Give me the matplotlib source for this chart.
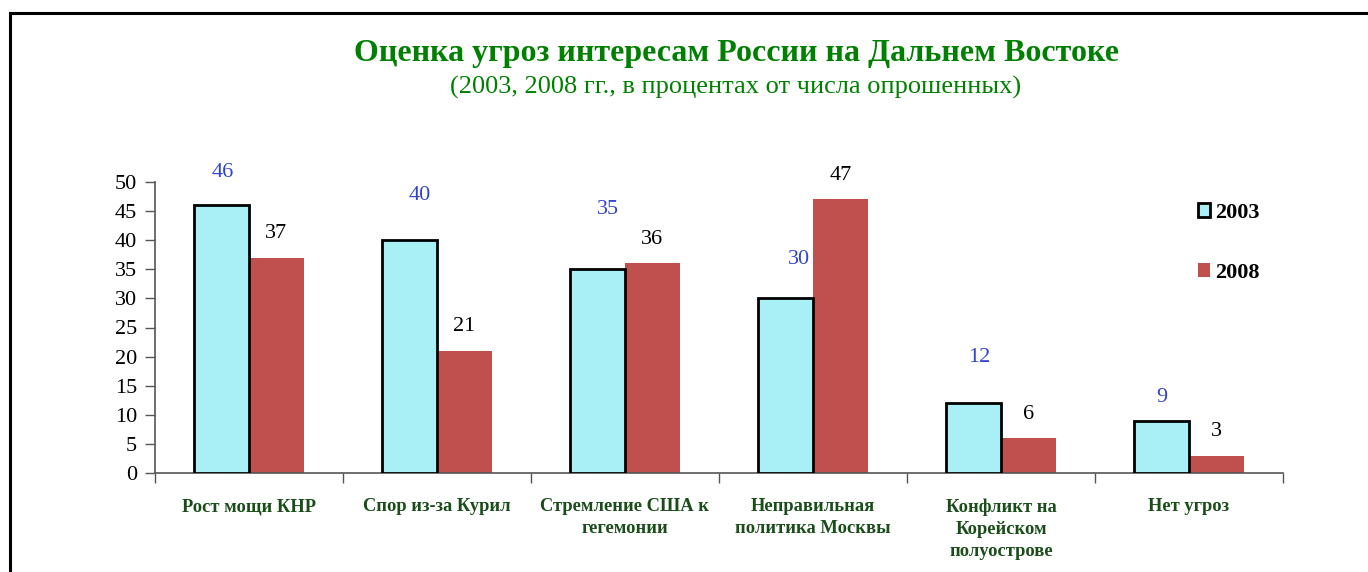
import matplotlib
matplotlib.use("Agg")
import matplotlib.pyplot as plt
import numpy as np
from matplotlib.lines import Line2D

categories = ["Рост мощи КНР", "Спор из-за Курил", "Стремление США к\nгегемонии",
              "Неправильная\nполитика Москвы", "Конфликт на\nКорейском\nполуострове", "Нет угроз"]
values_2003 = [46, 40, 35, 30, 12, 9]
values_2008 = [37, 21, 36, 47, 6, 3]
series_names = ["2003", "2008"]
yticks = [0, 5, 10, 15, 20, 25, 30, 35, 40, 45, 50]

title = "Оценка угроз интересам России на Дальнем Востоке"
subtitle = "(2003, 2008 гг., в процентах от числа опрошенных)"

# label offsets in pixels (style)
off_2003 = [(1, 33), (10, 45), (10, 60), (13, 39), (5, 46), (0, 23)]
off_2008 = (0, 24)

plt.rcParams['font.family'] = ['Liberation Serif', 'DejaVu Serif']

fig = plt.figure(figsize=(13.68, 5.72), dpi=100)
fig.patch.set_facecolor('white')

# frame lines
fig.add_artist(Line2D([10/1368, 10/1368], [0, 1 - 13/572], color='black', lw=2.2, transform=fig.transFigure))
fig.add_artist(Line2D([10/1368, 1], [1 - 13/572, 1 - 13/572], color='black', lw=2.2, transform=fig.transFigure))

ax = fig.add_axes([155/1368, 99/572, (1283-155)/1368, 291/572])
x = np.arange(len(categories))
w = 0.29
c2003 = '#A8F0F6'
c2008 = '#C0504D'
b1 = ax.bar(x - w/2, values_2003, w, color=c2003, edgecolor='black', linewidth=2.0, zorder=3)
b2 = ax.bar(x + w/2, values_2008, w, color=c2008, edgecolor='none', zorder=2)

for i, (xi, v) in enumerate(zip(x, values_2003)):
    ax.annotate(str(v), (xi - w/2, v), xytext=off_2003[i], textcoords='offset pixels',
                ha='center', va='center', fontsize=16, color='#3344CC')
for xi, v in zip(x, values_2008):
    ax.annotate(str(v), (xi + w/2, v), xytext=off_2008, textcoords='offset pixels',
                ha='center', va='center', fontsize=16, color='black')

ax.set_xlim(-0.5, len(categories) - 0.5)
ax.set_ylim(0, 50)
ax.set_yticks(yticks)
ax.set_yticklabels([str(t) for t in yticks], fontsize=16)
ax.set_xticks(np.arange(len(categories) + 1) - 0.5)
ax.set_xticklabels([])
ax.tick_params(axis='both', direction='out', length=7, width=1, color='#555555')
ax.tick_params(axis='y', pad=6)
for s in ['top', 'right']:
    ax.spines[s].set_visible(False)
for s in ['left', 'bottom']:
    ax.spines[s].set_color('#555555')
    ax.spines[s].set_linewidth(1.2)

for xi, c in zip(x, categories):
    ax.text(xi, -4.3, c, ha='center', va='top', fontsize=13.3, fontweight='bold',
            color='#1A4D1A', linespacing=1.4, transform=ax.transData)

leg = fig.legend([b1, b2], series_names, loc='center left',
                 bbox_to_anchor=(1178/1368, 1 - 243/572), frameon=False,
                 prop={'size': 16, 'weight': 'bold'}, handlelength=0.55, handleheight=0.55,
                 handletextpad=0.2, labelspacing=1.8)

fig.text(736/1368, 1 - 53/572, title, ha='center', va='center', fontsize=23,
         fontweight='bold', color='#008000')
fig.text(736/1368, 1 - 87/572, subtitle, ha='center', va='center', fontsize=19,
         color='#008000')

fig.savefig('out.png', dpi=100, facecolor='white')
